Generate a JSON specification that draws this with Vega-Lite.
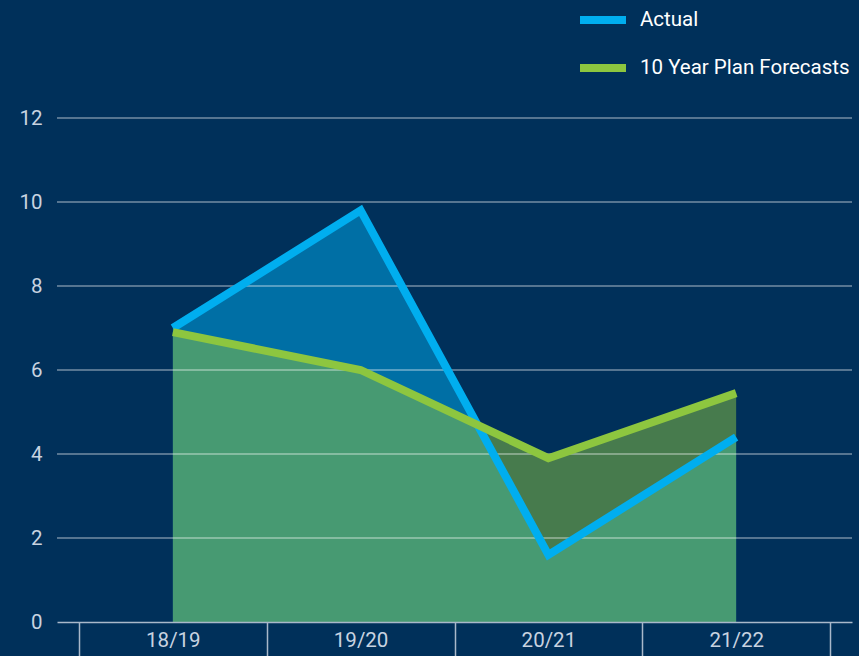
{
  "$schema": "https://vega.github.io/schema/vega-lite/v6.json",
  "width": 795,
  "height": 504,
  "autosize": {"type": "none"},
  "padding": {"left": 57, "top": 118, "right": 7, "bottom": 34},
  "background": "#00305A",
  "config": {
    "view": {"stroke": null},
    "font": "Roboto, sans-serif"
  },
  "datasets": {
    "series": [
      {"year": "18/19", "series": "Actual", "value": 7.0},
      {"year": "19/20", "series": "Actual", "value": 9.8},
      {"year": "20/21", "series": "Actual", "value": 1.6},
      {"year": "21/22", "series": "Actual", "value": 4.4},
      {"year": "18/19", "series": "10 Year Plan Forecasts", "value": 6.9},
      {"year": "19/20", "series": "10 Year Plan Forecasts", "value": 6.0},
      {"year": "20/21", "series": "10 Year Plan Forecasts", "value": 3.9},
      {"year": "21/22", "series": "10 Year Plan Forecasts", "value": 5.45}
    ],
    "grid": [{"v": 2}, {"v": 4}, {"v": 6}, {"v": 8}, {"v": 10}, {"v": 12}]
  },
  "data": {"name": "series"},
  "encoding": {
    "x": {
      "field": "year",
      "type": "ordinal",
      "sort": null,
      "scale": {"type": "band", "paddingInner": 0, "paddingOuter": 0.117},
      "axis": {
        "title": null,
        "domainColor": "#a9b8ca",
        "domainWidth": 1.5,
        "tickBand": "extent",
        "tickSize": 34,
        "tickColor": "#a9b8ca",
        "tickWidth": 1.5,
        "labelAngle": 0,
        "labelFontSize": 20.5,
        "labelColor": "#c8d3e0",
        "labelBaseline": "middle",
        "labelPadding": -16,
        "zindex": 1
      }
    }
  },
  "layer": [
    {
      "transform": [{"filter": "datum.series === 'Actual'"}],
      "mark": {"type": "area", "fillOpacity": 0.5},
      "encoding": {
        "y": {
          "field": "value",
          "type": "quantitative",
          "scale": {"domain": [0, 12], "nice": false},
          "axis": {
            "title": null,
            "domain": false,
            "ticks": false,
            "grid": false,
            "values": [0, 2, 4, 6, 8, 10, 12],
            "labelFontSize": 20.5,
            "labelColor": "#c8d3e0",
            "labelPadding": 15
          }
        },
        "color": {
          "field": "series",
          "type": "nominal",
          "scale": {"domain": ["Actual", "10 Year Plan Forecasts"], "range": ["#00AEEF", "#8DC63F"]},
          "legend": {
            "title": null,
            "orient": "none",
            "legendX": 519,
            "legendY": -125,
            "padding": 0,
            "symbolType": "stroke",
            "symbolSize": 2116,
            "symbolStrokeWidth": 8,
            "symbolOpacity": 1,
            "labelFontSize": 20.5,
            "labelColor": "#ffffff",
            "labelOffset": 10,
            "rowPadding": 5,
            "labelLimit": 400
          }
        }
      }
    },
    {
      "transform": [{"filter": "datum.series !== 'Actual'"}],
      "mark": {"type": "area", "fillOpacity": 0.5},
      "encoding": {
        "y": {"field": "value", "type": "quantitative"},
        "color": {"field": "series", "type": "nominal"}
      }
    },
    {
      "data": {"name": "grid"},
      "mark": {"type": "rule", "color": "#ffffff", "opacity": 0.45, "strokeWidth": 1.5},
      "encoding": {
        "y": {"field": "v", "type": "quantitative"},
        "x": {"value": 0},
        "x2": {"value": 795}
      }
    },
    {
      "transform": [{"filter": "datum.series === 'Actual'"}],
      "mark": {"type": "line", "strokeWidth": 8, "strokeCap": "butt", "strokeJoin": "miter"},
      "encoding": {
        "y": {"field": "value", "type": "quantitative"},
        "color": {"field": "series", "type": "nominal"}
      }
    },
    {
      "transform": [{"filter": "datum.series !== 'Actual'"}],
      "mark": {"type": "line", "strokeWidth": 8, "strokeCap": "butt", "strokeJoin": "miter"},
      "encoding": {
        "y": {"field": "value", "type": "quantitative"},
        "color": {"field": "series", "type": "nominal"}
      }
    }
  ]
}
